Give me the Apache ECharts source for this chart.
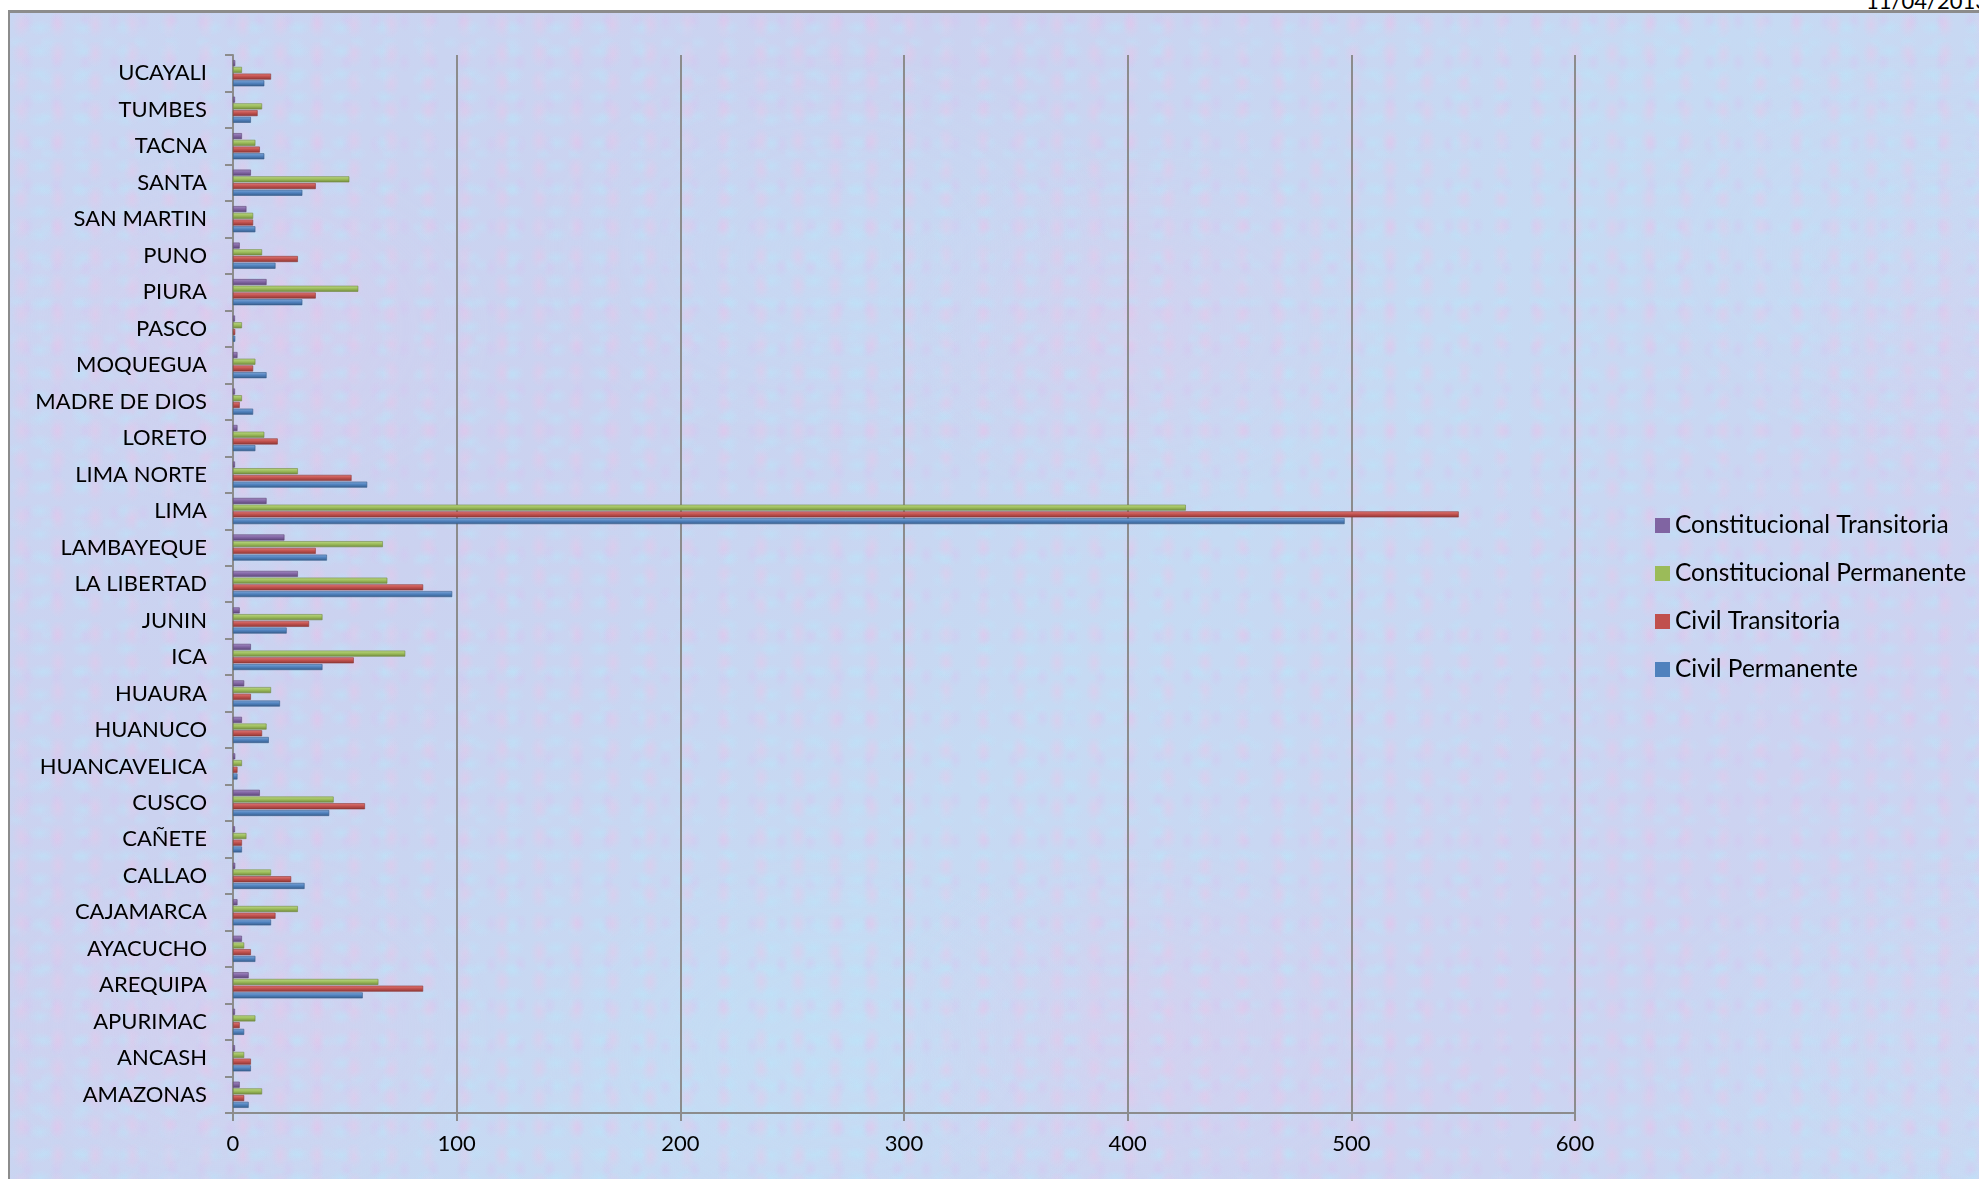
<!DOCTYPE html>
<html>
<head>
<meta charset="utf-8">
<script src="https://cdn.jsdelivr.net/npm/echarts@6/dist/echarts.min.js"></script>
<style>
  html, body { margin: 0; padding: 0; width: 1979px; height: 1179px; overflow: hidden; background: #ffffff; }
  #bg {
    position: absolute; left: 8px; top: 10px; width: 1979px; height: 1179px;
    border-left: 2px solid #8c8c8c; border-top: 3px solid #8c8c8c;
    background-color: #c8d5f1;
    background-image:
      radial-gradient(ellipse 9px 14px at 30% 40%, rgba(236,196,232,0.45), rgba(236,196,232,0) 100%),
      radial-gradient(ellipse 12px 8px at 70% 65%, rgba(184,230,250,0.45), rgba(184,230,250,0) 100%),
      radial-gradient(ellipse 7px 10px at 60% 20%, rgba(214,196,240,0.45), rgba(214,196,240,0) 100%),
      radial-gradient(ellipse 10px 7px at 20% 80%, rgba(190,226,248,0.4), rgba(190,226,248,0) 100%),
      radial-gradient(ellipse 260px 180px at 25% 45%, rgba(228,200,236,0.35), rgba(228,200,236,0) 100%),
      radial-gradient(ellipse 300px 200px at 75% 30%, rgba(190,228,248,0.35), rgba(190,228,248,0) 100%),
      linear-gradient(135deg, #c9d6f2 0%, #cbd2f0 30%, #c6daf3 55%, #cdd3f1 80%, #c7d9f3 100%);
    background-size: 37px 29px, 43px 23px, 29px 41px, 31px 37px, 900px 700px, 1100px 800px, 100% 100%;
  }
  #date { position: absolute; left: 1866px; top: -13px; font-family: Lato, sans-serif; font-size: 22px; color: #000; white-space: nowrap; }
  #chart { position: absolute; left: 0; top: 0; width: 1979px; height: 1179px; }
</style>
</head>
<body>
<div id="bg"></div>
<div id="date">11/04/2013</div>
<div id="chart"></div>
<script>
const categories = ['AMAZONAS','ANCASH','APURIMAC','AREQUIPA','AYACUCHO','CAJAMARCA','CALLAO','CAÑETE','CUSCO','HUANCAVELICA','HUANUCO','HUAURA','ICA','JUNIN','LA LIBERTAD','LAMBAYEQUE','LIMA','LIMA NORTE','LORETO','MADRE DE DIOS','MOQUEGUA','PASCO','PIURA','PUNO','SAN MARTIN','SANTA','TACNA','TUMBES','UCAYALI'];
const civilPermanente = [7,8,5,58,10,17,32,4,43,2,16,21,40,24,98,42,497,60,10,9,15,1,31,19,10,31,14,8,14];
const civilTransitoria = [5,8,3,85,8,19,26,4,59,2,13,8,54,34,85,37,548,53,20,3,9,1,37,29,9,37,12,11,17];
const constitucionalPermanente = [13,5,10,65,5,29,17,6,45,4,15,17,77,40,69,67,426,29,14,4,10,4,56,13,9,52,10,13,4];
const constitucionalTransitoria = [3,0,0,7,4,2,1,0,12,1,4,5,8,3,29,23,15,0,2,0,2,0,15,3,6,8,4,0,1];
const seriesNames = ['Constitucional Transitoria','Constitucional Permanente','Civil Transitoria','Civil Permanente'];
const legendOrder = ['Constitucional Transitoria','Constitucional Permanente','Civil Transitoria','Civil Permanente'];
const xTicks = [0,100,200,300,400,500,600];

const colors = {
  'Civil Permanente': ['#7fa6d8', '#4f81bd', '#385d8a'],
  'Civil Transitoria': ['#e07a77', '#c0504d', '#8c3836'],
  'Constitucional Permanente': ['#bcd887', '#9bbb59', '#71893f'],
  'Constitucional Transitoria': ['#a48bc4', '#8064a2', '#5c4776']
};
const dataBySeries = [constitucionalTransitoria, constitucionalPermanente, civilTransitoria, civilPermanente];

const chart = echarts.init(document.getElementById('chart'));
const font = 'Lato, "Open Sans", sans-serif';
chart.setOption({
  backgroundColor: 'transparent',
  animation: false,
  textStyle: { fontFamily: font },
  grid: { left: 233, right: 404, top: 55, bottom: 66, containLabel: false },
  legend: {
    orient: 'vertical', left: 1650, top: 508,
    itemWidth: 15, itemHeight: 15, itemGap: 23,
    icon: 'rect',
    data: legendOrder.map(n => ({ name: n, itemStyle: { color: colors[n][1], borderWidth: 0 } })),
    textStyle: { fontFamily: font, fontSize: 24.5, color: '#000' }
  },
  xAxis: {
    type: 'value', min: xTicks[0], max: xTicks[xTicks.length - 1], interval: 100,
    axisLine: { show: true, lineStyle: { color: '#8c8c8c', width: 2 } },
    axisTick: { show: true, length: 8, lineStyle: { color: '#8c8c8c', width: 2 } },
    axisLabel: { fontFamily: font, fontSize: 22, color: '#000', margin: 20 },
    splitLine: { show: true, lineStyle: { color: '#8c8c8c', width: 2 } }
  },
  yAxis: {
    type: 'category', data: categories,
    axisLine: { show: true, lineStyle: { color: '#8c8c8c', width: 2 } },
    axisTick: { show: true, length: 8, lineStyle: { color: '#8c8c8c', width: 2 } },
    axisLabel: { fontFamily: font, fontSize: 22, color: '#000', margin: 26 },
    splitLine: { show: false }
  },
  series: seriesNames.map((name, i) => ({
    name: name, type: 'bar', data: dataBySeries[i],
    barWidth: 6, barGap: '12%', barMinHeight: 2,
    itemStyle: {
      color: new echarts.graphic.LinearGradient(0, 0, 0, 1, [
        { offset: 0, color: colors[name][0] },
        { offset: 0.5, color: colors[name][1] },
        { offset: 1, color: colors[name][2] }
      ]),
      borderColor: colors[name][2], borderWidth: 0.6
    }
  }))
});
</script>
</body>
</html>
